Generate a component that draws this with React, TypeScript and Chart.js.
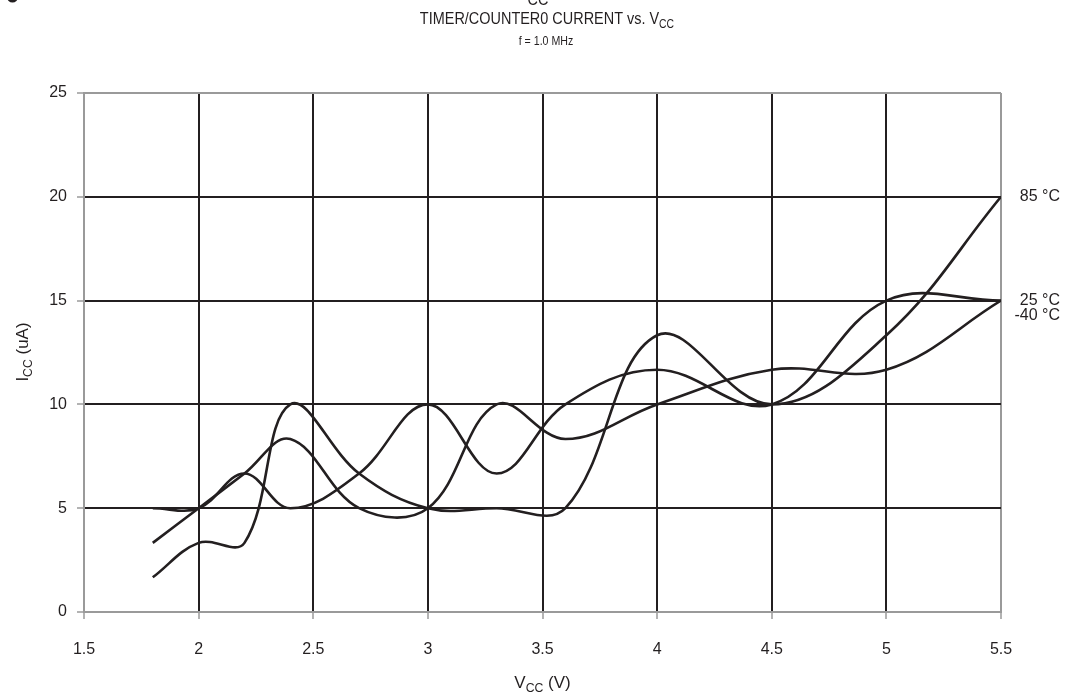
import React, { useEffect, useRef } from "react";
import { Chart, registerables } from "chart.js";

Chart.register(...registerables);

// Supply voltage (V)
const VCC = [1.8, 2.0, 2.2, 2.4, 2.7, 3.0, 3.3, 3.6, 4.0, 4.5, 5.0, 5.5];
// Timer/Counter0 current (uA)
const I_85C = [1.67, 3.33, 3.33, 10, 6.67, 5, 5, 5, 13.33, 10, 13.33, 20];
const I_25C = [5, 5, 6.67, 5, 6.67, 10, 6.67, 10, 11.67, 10, 15, 15];
const I_M40C = [3.33, 5, 6.67, 8.33, 5, 5, 10, 8.33, 10, 11.67, 11.67, 15];

const SERIES_LABELS = ["85 °C", "25 °C", "-40 °C"];
const X_TICKS = [1.5, 2, 2.5, 3, 3.5, 4, 4.5, 5, 5.5];
const Y_TICKS = [0, 5, 10, 15, 20, 25];

const FONT = '"Liberation Sans", Arial, Helvetica, sans-serif';
const INK = "#231f20";
const GRAY = "#9a9a9a";

type Part = [string, boolean];

function drawRich(ctx: CanvasRenderingContext2D, parts: Part[], x: number, y: number, size: number, sx = 1) {
  const sub = size * 0.72;
  ctx.save();
  ctx.translate(x, y);
  ctx.scale(sx, 1);
  let w = 0;
  for (const [t, s] of parts) {
    ctx.font = `${s ? sub : size}px ${FONT}`;
    w += ctx.measureText(t).width;
  }
  let cx = -w / 2;
  ctx.textBaseline = "alphabetic";
  ctx.textAlign = "left";
  ctx.fillStyle = INK;
  const base = size * 0.36;
  for (const [t, s] of parts) {
    ctx.font = `${s ? sub : size}px ${FONT}`;
    ctx.fillText(t, cx, base + (s ? size * 0.22 : 0));
    cx += ctx.measureText(t).width;
  }
  ctx.restore();
}

const textPlugin = {
  id: "texts",
  afterDraw(chart: any) {
    const ctx: CanvasRenderingContext2D = chart.ctx;
    const { left, right } = chart.chartArea;
    const ys = chart.scales.y;
    const midX = (left + right) / 2;
    ctx.save();
    // cut-off header remnants
    ctx.fillStyle = INK;
    ctx.beginPath();
    ctx.arc(12.5, -3, 5.5, 0, Math.PI * 2);
    ctx.fill();
    ctx.save();
    ctx.translate(538, 5);
    ctx.scale(0.85, 1);
    ctx.font = `17px ${FONT}`;
    ctx.textAlign = "center";
    ctx.textBaseline = "alphabetic";
    ctx.fillText("CC", 0, 0);
    ctx.restore();
    // titles
    drawRich(ctx, [["TIMER/COUNTER0 CURRENT vs. V", false], ["CC", true]], 547, 18, 17, 0.85);
    drawRich(ctx, [["f = 1.0 MHz", false]], 546, 40, 12.5, 0.85);
    // axis titles
    drawRich(ctx, [["V", false], ["CC", true], [" (V)", false]], midX, 682, 17);
    ctx.save();
    ctx.translate(22, 352);
    ctx.rotate(-Math.PI / 2);
    drawRich(ctx, [["I", false], ["CC", true], [" (uA)", false]], 0, 0, 17);
    ctx.restore();
    // series end labels
    ctx.font = `16px ${FONT}`;
    ctx.fillStyle = INK;
    ctx.textAlign = "right";
    ctx.textBaseline = "middle";
    const ends = [I_85C[I_85C.length - 1], I_25C[I_25C.length - 1], I_M40C[I_M40C.length - 1]];
    ctx.fillText(SERIES_LABELS[0], 1060, ys.getPixelForValue(ends[0]));
    ctx.fillText(SERIES_LABELS[1], 1060, ys.getPixelForValue(ends[1]));
    ctx.fillText(SERIES_LABELS[2], 1060, ys.getPixelForValue(ends[2]) + 15);
    ctx.restore();
  },
};

function toPoints(ys: number[]) {
  return VCC.map((x, i) => ({ x, y: ys[i] }));
}

export default function App() {
  const ref = useRef<HTMLCanvasElement | null>(null);
  useEffect(() => {
    if (!ref.current) return;
    const line = (label: string, data: number[]) => ({
      label,
      data: toPoints(data),
      borderColor: INK,
      borderWidth: 2.6,
      pointRadius: 0,
      fill: false,
      tension: 0.38,
    });
    const chart = new Chart(ref.current, {
      type: "line",
      data: {
        datasets: [
          line(SERIES_LABELS[0], I_85C),
          line(SERIES_LABELS[1], I_25C),
          line(SERIES_LABELS[2], I_M40C),
        ],
      },
      options: {
        animation: false,
        responsive: false,
        layout: { padding: { top: 93, right: 64, left: 0, bottom: 0 } },
        plugins: { legend: { display: false }, tooltip: { enabled: false }, title: { display: false } },
        scales: {
          x: {
            type: "linear",
            min: 1.5,
            max: 5.5,
            afterBuildTicks: (s: any) => {
              s.ticks = X_TICKS.map((v) => ({ value: v }));
            },
            afterFit: (s: any) => {
              s.height = 81;
            },
            ticks: {
              callback: (v: any) => String(v),
              font: { size: 16, family: FONT },
              color: INK,
              padding: 21,
              maxRotation: 0,
            },
            grid: {
              color: (c: any) => (c.tick && (c.tick.value === 1.5 || c.tick.value === 5.5) ? GRAY : INK),
              lineWidth: 2,
              tickLength: 7,
              tickColor: GRAY,
              tickWidth: 1.5,
            },
            border: { color: GRAY, width: 2 },
          },
          y: {
            type: "linear",
            min: 0,
            max: 25,
            afterBuildTicks: (s: any) => {
              s.ticks = Y_TICKS.map((v) => ({ value: v }));
            },
            afterFit: (s: any) => {
              s.width = 84;
            },
            ticks: {
              callback: (v: any) => String(v),
              font: { size: 16, family: FONT },
              color: INK,
              padding: 10,
            },
            grid: {
              color: (c: any) => (c.tick && (c.tick.value === 0 || c.tick.value === 25) ? GRAY : INK),
              lineWidth: 2,
              tickLength: 7,
              tickColor: GRAY,
              tickWidth: 1.5,
            },
            border: { color: GRAY, width: 2 },
          },
        },
      },
      plugins: [textPlugin],
    } as any);
    return () => chart.destroy();
  }, []);
  return (
    <div style={{ position: "absolute", left: 0, top: 0, width: 1065, height: 693, background: "#fff" }}>
      <canvas ref={ref} width={1065} height={693} />
    </div>
  );
}
